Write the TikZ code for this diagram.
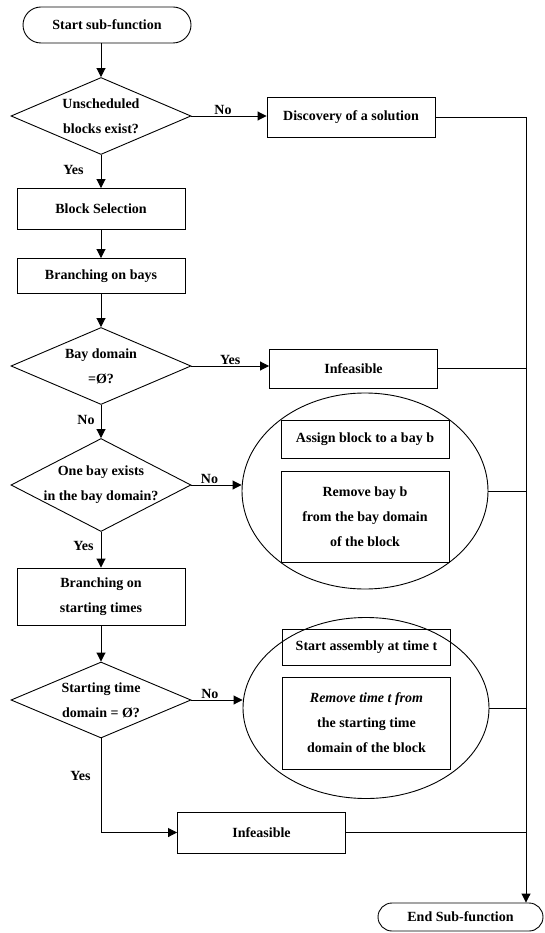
\documentclass[tikz,border=0pt]{standalone}
\usepackage{fontspec}
\setmainfont{Liberation Serif}
\usetikzlibrary{shapes.geometric,shapes.misc,arrows.meta}
\tikzset{
  flowterm/.style={draw,rounded rectangle,line width=0.9pt,inner sep=0pt},
  flowbox/.style={draw,rectangle,line width=0.9pt,inner sep=0pt,align=center,minimum width=168pt},
  flowdecision/.style={draw,diamond,aspect=2.3,line width=0.9pt,inner xsep=-15pt,inner ysep=-5pt,align=center,minimum width=180pt},
  flowgroup/.style={draw,ellipse,line width=0.9pt,minimum width=246pt},
  flowarrow/.style={-{Triangle[length=9pt,width=9pt]},line width=0.9pt},
  flowline/.style={line width=0.9pt},
  flowlabel/.style={inner sep=1pt},
  every picture/.style={font=\fontsize{14}{25}\selectfont\bfseries}
}

\begin{document}
\begin{tikzpicture}[x=1pt,y=-1pt]
  \useasboundingbox (0,0) rectangle (544,933);
  \node[flowterm,minimum width=168pt,minimum height=36pt] (start) at (107,25) {Start sub-function};
  \node[flowdecision,minimum height=77pt] (unsched) at (101,116) {Unscheduled\\blocks exist?};
  \node[flowbox,minimum height=40pt] (discovery) at (351,117) {Discovery of a solution};
  \node[flowbox,minimum height=41pt] (blocksel) at (101,209) {Block Selection};
  \node[flowbox,minimum height=35pt] (bays) at (101,276) {Branching on bays};
  \node[flowdecision,minimum height=77pt] (baydom) at (101,366) {Bay domain\\=Ø?};
  \node[flowbox,minimum height=39pt] (infeasA) at (353.5,368.5) {Infeasible};
  \node[flowdecision,minimum height=93pt] (onebay) at (101,485) {One bay exists\\in the bay domain?};
  % right-hand groups
  \node[flowgroup,minimum height=196pt] (bayopts) at (365,491) {};
  \node[flowbox,minimum height=38pt] (assign) at (365,439) {Assign block to a bay b};
  \node[flowbox,minimum height=91pt] (removebay) at (365,516.5) {Remove bay b\\from the bay domain\\of the block};
  \node[flowbox,minimum height=57pt] (times) at (101,596.5) {Branching on\\starting times};
  \node[flowdecision,minimum height=76pt] (timedom) at (101,700) {Starting time\\domain = Ø?};
  \node[flowgroup,minimum height=181pt] (timeopts) at (366,708) {};
  \node[flowbox,minimum height=36pt] (startasm) at (366.5,647) {Start assembly at time t};
  \node[flowbox,minimum height=92pt] (removetime) at (366.5,723) {\textit{Remove time t from}\\the starting time\\domain of the block};
  \node[flowbox,minimum height=41pt] (infeasB) at (261.5,832.5) {Infeasible};
  \node[flowterm,minimum width=165pt,minimum height=28pt] (end) at (460.5,917) {End Sub-function};
  \coordinate (bus) at (526,117);

  \draw[flowarrow] (start.south -| unsched.north) -- (unsched.north);
  \draw[flowarrow] (unsched.east) -- node[flowlabel,above,pos=0.42] (noA) {No} (unsched.east -| discovery.west);
  \draw[flowarrow] (unsched.south) -- node[flowlabel,left=16pt,pos=0.45] (yesA) {Yes} (blocksel.north);
  \draw[flowarrow] (blocksel.south) -- (bays.north);
  \draw[flowarrow] (bays.south) -- (baydom.north);
  \draw[flowarrow] (baydom.east) -- node[flowlabel,above,pos=0.5] (yesB) {Yes} (baydom.east -| infeasA.west);
  \draw[flowarrow] (baydom.south) -- node[flowlabel,left=5pt,pos=0.45] (noB) {No} (onebay.north);
  \draw[flowarrow] (onebay.east) -- node[flowlabel,above,pos=0.36] (noC) {No} (onebay.east -| bayopts.west);
  \draw[flowarrow] (onebay.south) -- node[flowlabel,left=6pt,pos=0.39] (yesC) {Yes} (times.north);
  \draw[flowarrow] (times.south) -- (timedom.north);
  \draw[flowarrow] (timedom.east) -- node[flowlabel,above,pos=0.36] (noD) {No} (timedom.east -| timeopts.west);
  \draw[flowarrow] (timedom.south) |- node[flowlabel,left=9pt,pos=0.2] (yesD) {Yes} (infeasB.west);

  % collecting line to the end
  \draw[flowline] (discovery.east) -- (bus);
  \draw[flowarrow] (bus) -- (bus |- end.north);
  \draw[flowline] (infeasA.east) -- (infeasA.east -| bus);
  \draw[flowline] (bayopts.east) -- (bayopts.east -| bus);
  \draw[flowline] (timeopts.east) -- (timeopts.east -| bus);
  \draw[flowline] (infeasB.east) -- (infeasB.east -| bus);
\end{tikzpicture}
\end{document}
